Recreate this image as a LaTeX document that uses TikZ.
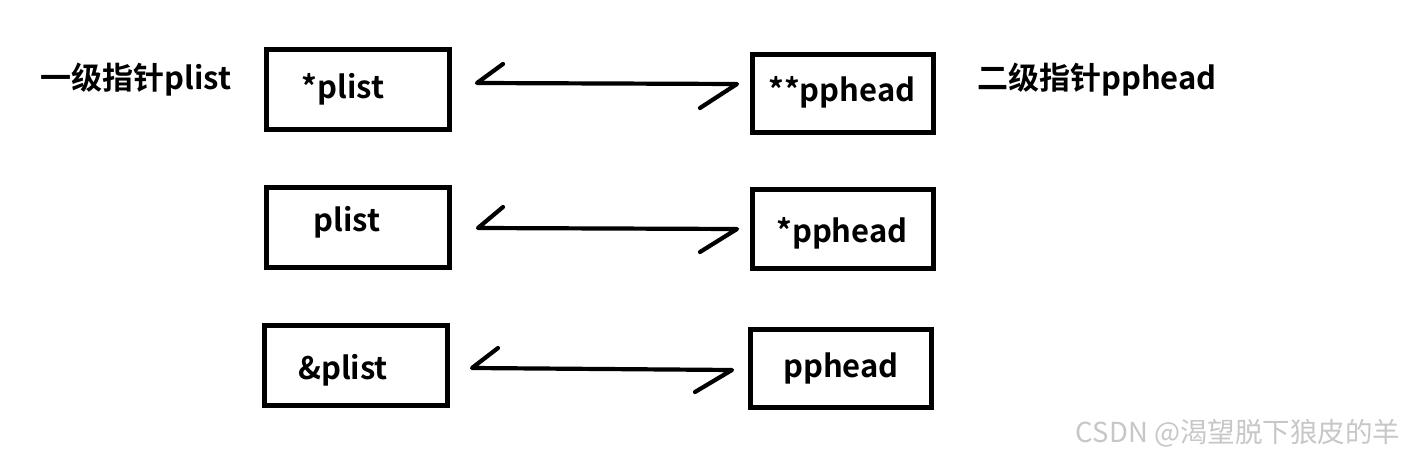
\documentclass[tikz,border=0pt]{standalone}
\usepackage{fontspec}
\newfontfamily\cjkb{Noto Sans CJK SC}
\newfontfamily\cjkbold{Noto Sans CJK SC Bold}
\begin{document}
\begin{tikzpicture}[x=1pt,y=-1pt,
  box/.style={draw=black,line width=5pt,minimum width=183pt,minimum height=80pt,inner sep=0pt},
  txt/.style={font=\cjkbold\fontsize{31}{36}\selectfont,inner sep=0pt},
  conn/.style={line width=4.2pt,line cap=round,line join=round},
  wm/.style={font=\cjkb\fontsize{27.5}{32}\selectfont,text=black!22,inner sep=0pt}]
\useasboundingbox[fill=white] (0,0) rectangle (1403,457);
% boxes
\node[box] (l1) at (358,90) {};
\node[box] (l2) at (357.5,227.5) {};
\node[box] (l3) at (355.5,365.5) {};
\node[box,minimum width=181pt,minimum height=78pt] (r1) at (842.5,93.5) {};
\node[box,minimum width=181pt,minimum height=78pt] (r2) at (842.5,229) {};
\node[box,minimum width=181pt,minimum height=78pt] (r3) at (840.5,368) {};
% texts
\node[txt] (tl1) at (343,89) {*plist};
\node[txt] (tl2) at (347,222) {plist};
\node[txt] (tl3) at (343,370) {\&plist};
\node[txt] (tr1) at (842,92) {**pphead};
\node[txt] (tr2) at (842,233) {*pphead};
\node[txt] (tr3) at (841,368) {pphead};
\node[txt] (lab1) at (136,80) {一级指针plist};
\node[txt] (lab2) at (1097,80) {二级指针pphead};
\node[wm] (wm) at (1238,433) {CSDN @渴望脱下狼皮的羊};
% arrows
\coordinate (a1s) at (477,83);  \coordinate (a1b) at (503,64);
\coordinate (a1e) at (737,84);  \coordinate (a1c) at (700,108);
\coordinate (a2s) at (478,228); \coordinate (a2b) at (503,207);
\coordinate (a2e) at (737,229); \coordinate (a2c) at (700,252);
\coordinate (a3s) at (472,368); \coordinate (a3b) at (498,348);
\coordinate (a3e) at (732,370); \coordinate (a3c) at (695,392);
\draw[conn] (a1b) -- (a1s) -- (a1e) -- (a1c);
\draw[conn] (a2b) -- (a2s) -- (a2e) -- (a2c);
\draw[conn] (a3b) -- (a3s) -- (a3e) -- (a3c);
\end{tikzpicture}
\end{document}
